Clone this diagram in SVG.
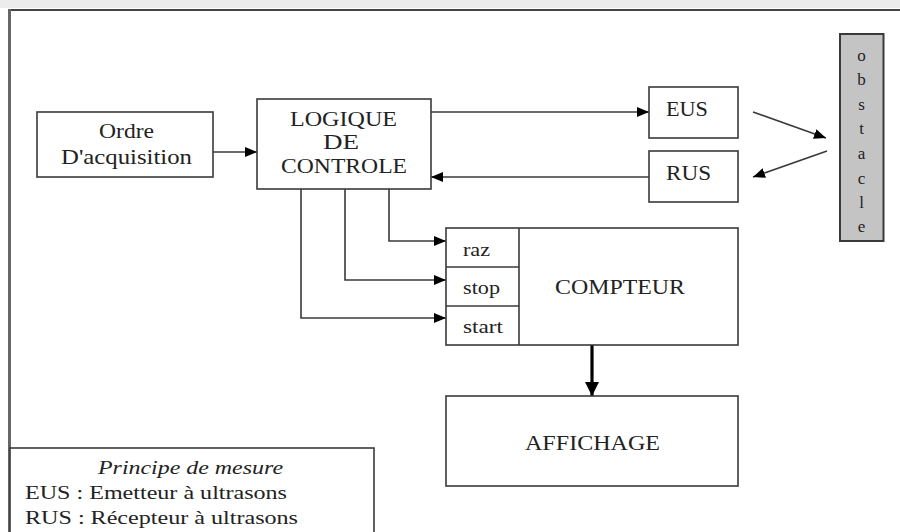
<svg xmlns="http://www.w3.org/2000/svg" width="900" height="532" viewBox="0 0 900 532">
<style>
.box{fill:#fff;stroke:#3a3a3a;stroke-width:1.6}
.t{font-family:"Liberation Serif","Times New Roman",serif;font-size:21px;fill:#222}
.s{font-family:"Liberation Serif","Times New Roman",serif;font-size:18px;fill:#222}
.c{fill:none;stroke:#3a3a3a;stroke-width:1.6}
</style>
<defs>
<marker id="ah" viewBox="0 0 12 10" refX="12" refY="5" markerWidth="12" markerHeight="10" markerUnits="userSpaceOnUse" orient="auto"><path d="M0,0 L12,5 L0,10 Z" fill="#000"/></marker>
<marker id="ahb" viewBox="0 0 14 14" refX="14" refY="7" markerWidth="14" markerHeight="14" markerUnits="userSpaceOnUse" orient="auto"><path d="M0,0 L14,7 L0,14 Z" fill="#000"/></marker>
</defs>
<rect x="0" y="0" width="900" height="532" fill="#fff"/>
<rect x="0" y="0" width="900" height="8" fill="#ececec"/>
<g id="frame">
<line x1="9.5" y1="10" x2="900" y2="10" stroke="#444" stroke-width="2"/>
<line x1="9.5" y1="9" x2="9.5" y2="532" stroke="#666" stroke-width="3"/>
</g>
<g id="connectors">
<line class="c" x1="213" y1="152" x2="257" y2="152" marker-end="url(#ah)"/>
<line class="c" x1="431" y1="112" x2="649" y2="112" marker-end="url(#ah)"/>
<line class="c" x1="649" y1="177" x2="431" y2="177" marker-end="url(#ah)"/>
<line class="c" x1="753" y1="112" x2="826" y2="138" marker-end="url(#ah)"/>
<line class="c" x1="827" y1="151" x2="753" y2="177" marker-end="url(#ah)"/>
<polyline class="c" points="389,189 389,241 446,241" marker-end="url(#ah)"/>
<polyline class="c" points="345,189 345,280 446,280" marker-end="url(#ah)"/>
<polyline class="c" points="301,189 301,318 446,318" marker-end="url(#ah)"/>
<line x1="592" y1="345" x2="592" y2="396" stroke="#000" stroke-width="3.2" marker-end="url(#ahb)"/>
</g>
<g id="ordre">
<rect class="box" x="37" y="112" width="176" height="65"/>
<text class="t" x="126.5" y="138" text-anchor="middle" textLength="55" lengthAdjust="spacingAndGlyphs">Ordre</text>
<text class="t" x="126.5" y="164" text-anchor="middle" textLength="131" lengthAdjust="spacingAndGlyphs">D'acquisition</text>
</g>
<g id="logique">
<rect class="box" x="257" y="99" width="174" height="90"/>
<text class="t" x="343.5" y="126" text-anchor="middle" textLength="107" lengthAdjust="spacingAndGlyphs">LOGIQUE</text>
<text class="t" x="341" y="149" text-anchor="middle" textLength="36" lengthAdjust="spacingAndGlyphs">DE</text>
<text class="t" x="344" y="173" text-anchor="middle" textLength="126" lengthAdjust="spacingAndGlyphs">CONTROLE</text>
</g>
<g id="eus">
<rect class="box" x="649" y="87" width="89" height="51"/>
<text class="t" x="666" y="116" textLength="42" lengthAdjust="spacingAndGlyphs">EUS</text>
</g>
<g id="rus">
<rect class="box" x="649" y="151" width="89" height="51"/>
<text class="t" x="666" y="180" textLength="45" lengthAdjust="spacingAndGlyphs">RUS</text>
</g>
<g id="obstacle">
<rect x="840" y="34" width="43.5" height="207" fill="#c4c4c4" stroke="#3a3a3a" stroke-width="2"/>
<g class="s" text-anchor="middle" style="font-size:17px">
<text x="861.5" y="61">o</text>
<text x="861.5" y="85">b</text>
<text x="861.5" y="110">s</text>
<text x="861.5" y="134">t</text>
<text x="861.5" y="159">a</text>
<text x="861.5" y="184">c</text>
<text x="861.5" y="208">l</text>
<text x="861.5" y="232">e</text>
</g>
</g>
<g id="compteur">
<rect class="box" x="446" y="228" width="292" height="117"/>
<line class="c" x1="519" y1="228" x2="519" y2="345"/>
<line class="c" x1="446" y1="267" x2="519" y2="267"/>
<line class="c" x1="446" y1="306" x2="519" y2="306"/>
<text class="s" x="463" y="256" textLength="27" lengthAdjust="spacingAndGlyphs">raz</text>
<text class="s" x="463" y="294" textLength="37" lengthAdjust="spacingAndGlyphs">stop</text>
<text class="s" x="463" y="333" textLength="40" lengthAdjust="spacingAndGlyphs">start</text>
<text class="t" x="620" y="294" text-anchor="middle" textLength="130" lengthAdjust="spacingAndGlyphs">COMPTEUR</text>
</g>
<g id="affichage">
<rect class="box" x="446" y="396" width="292" height="90"/>
<text class="t" x="592.5" y="450" text-anchor="middle" textLength="135" lengthAdjust="spacingAndGlyphs">AFFICHAGE</text>
</g>
<g id="legende">
<rect class="box" x="10" y="448" width="364" height="100"/>
<text class="s" x="190.5" y="474" text-anchor="middle" font-style="italic" textLength="185" lengthAdjust="spacingAndGlyphs">Principe de mesure</text>
<text class="s" x="25" y="499" textLength="262" lengthAdjust="spacingAndGlyphs">EUS : Emetteur à ultrasons</text>
<text class="s" x="25" y="524" textLength="273" lengthAdjust="spacingAndGlyphs">RUS : Récepteur à ultrasons</text>
</g>
</svg>
